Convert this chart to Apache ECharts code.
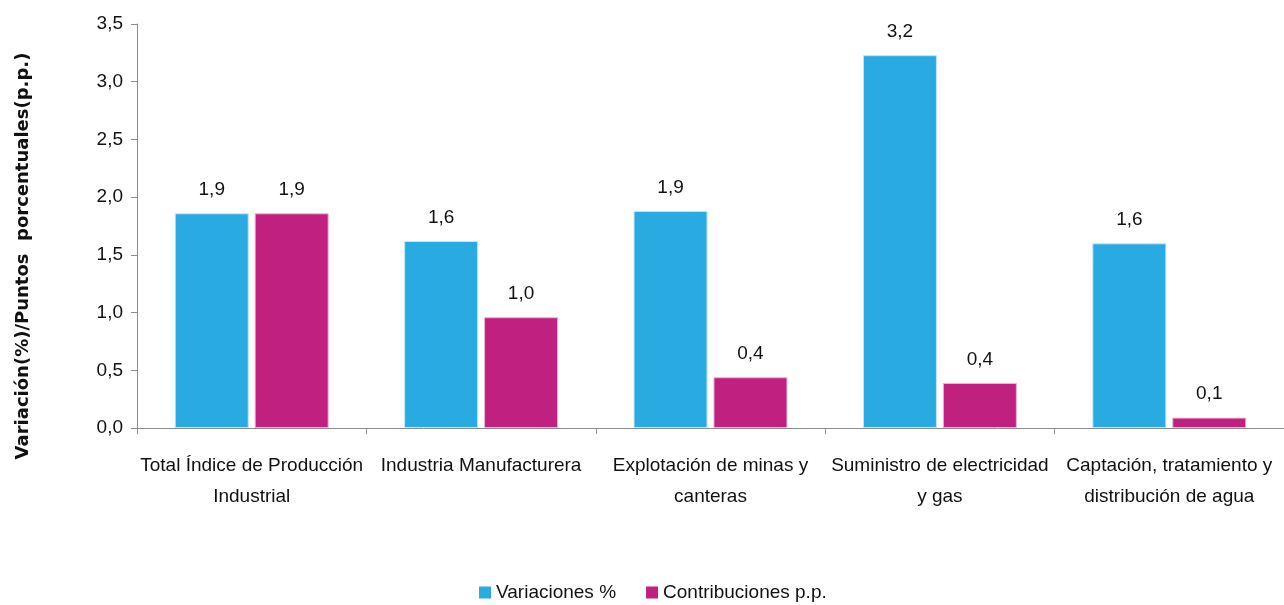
<!DOCTYPE html>
<html>
<head>
<meta charset="utf-8">
<script src="https://cdn.jsdelivr.net/npm/echarts@6/dist/echarts.min.js"></script>
<style>
  html, body { margin: 0; padding: 0; background: #fff; }
  #chart { width: 1284px; height: 605px; }
</style>
</head>
<body>
<div id="chart"></div>
<script>
  // categorias del eje x
  const categories = [
    'Total Índice de Producción\nIndustrial',
    'Industria Manufacturera',
    'Explotación de minas y\ncanteras',
    'Suministro de electricidad\ny gas',
    'Captación, tratamiento y\ndistribución de agua'
  ];
  const variaciones = [1.86, 1.62, 1.88, 3.23, 1.60];
  const contribuciones = [1.86, 0.96, 0.44, 0.39, 0.09];
  const yTicks = [0, 0.5, 1.0, 1.5, 2.0, 2.5, 3.0, 3.5];

  const font = '"Liberation Sans", Arial, sans-serif';
  const fmt = (v) => Number(v).toFixed(1).replace('.', ',');

  const myChart = echarts.init(document.getElementById('chart'), null, { renderer: 'canvas' });
  const labelStyle = {
    show: true,
    position: 'top',
    distance: 14,
    color: '#111',
    fontSize: 19,
    fontFamily: font,
    formatter: (p) => fmt(p.value)
  };
  const option = {
    animation: false,
    textStyle: { fontFamily: font },
    grid: { left: 137, right: -6, top: 24, bottom: 177 },
    legend: {
      left: 474,
      top: 578,
      itemWidth: 12,
      itemHeight: 12,
      itemGap: 30,
      icon: 'rect',
      itemStyle: { borderWidth: 0 },
      textStyle: { fontSize: 19, color: '#111', fontFamily: font },
      data: ['Variaciones %', 'Contribuciones p.p.']
    },
    graphic: [{
      type: 'text',
      x: 23,
      y: 256,
      rotation: Math.PI / 2,
      style: {
        text: 'Variación(%)/Puntos  porcentuales(p.p.)',
        fontSize: 18,
        fontWeight: 'bold',
        fontFamily: '"DejaVu Sans", sans-serif',
        fill: '#111',
        align: 'center',
        verticalAlign: 'middle'
      }
    }],
    xAxis: {
      type: 'category',
      data: categories,
      axisLine: { lineStyle: { color: '#8c8c8c', width: 1 } },
      axisTick: { show: true, length: 6, lineStyle: { color: '#8c8c8c' } },
      axisLabel: {
        interval: 0,
        color: '#111',
        fontSize: 19,
        lineHeight: 31,
        margin: 22,
        fontFamily: font
      }
    },
    yAxis: {
      type: 'value',
      min: yTicks[0],
      max: yTicks[yTicks.length - 1],
      interval: 0.5,
      axisLine: { show: true, lineStyle: { color: '#8c8c8c' } },
      axisTick: { show: true, length: 6, lineStyle: { color: '#8c8c8c' } },
      splitLine: { show: false },
      axisLabel: {
        color: '#111',
        fontSize: 19,
        margin: 14,
        fontFamily: font,
        formatter: (v) => fmt(v)
      }
    },
    series: [
      {
        name: 'Variaciones %',
        type: 'bar',
        data: variaciones,
        barWidth: 74,
        barGap: '8%',
        itemStyle: { color: '#29abe2', borderColor: '#bfe6f7', borderWidth: 1 },
        label: labelStyle
      },
      {
        name: 'Contribuciones p.p.',
        type: 'bar',
        data: contribuciones,
        barWidth: 74,
        itemStyle: { color: '#c02080', borderColor: '#e9b6d3', borderWidth: 1 },
        label: labelStyle
      }
    ]
  };
  myChart.setOption(option);
</script>
</body>
</html>
